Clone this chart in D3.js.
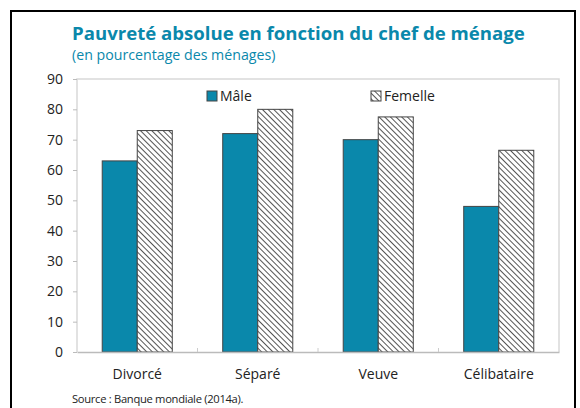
<!DOCTYPE html>
<html>
<head>
<meta charset="utf-8">
<script src="https://cdn.jsdelivr.net/npm/d3@7"></script>
<style>
body { margin: 0; background: #fff; }
text { font-family: "Open Sans", "Noto Sans", sans-serif; }
</style>
</head>
<body>
<div id="canvas"></div>
<script>
var categories = ["Divorcé", "Séparé", "Veuve", "Célibataire"];
var series = ["Mâle", "Femelle"];
var maleValues = [63, 72, 70, 48];
var femaleValues = [73, 80, 77.5, 66.5];
var yTicks = [0, 10, 20, 30, 40, 50, 60, 70, 80, 90];

var width = 580, height = 408;
var plotLeft = 77, plotRight = 559, plotTop = 79, plotBottom = 352;
var teal = "#0a88ab";

var svg = d3.select("#canvas").append("svg").attr("width", width).attr("height", height);

// hatch pattern for "Femelle" (lines going down to the right)
var defs = svg.append("defs");
var pat = defs.append("pattern").attr("id", "hatch")
    .attr("patternUnits", "userSpaceOnUse")
    .attr("width", 4).attr("height", 4)
    .attr("patternTransform", "rotate(-45)");
pat.append("rect").attr("width", 4).attr("height", 4).attr("fill", "white");
pat.append("line").attr("x1", 0).attr("y1", 0).attr("x2", 0).attr("y2", 4)
    .attr("stroke", "#555").attr("stroke-width", 2);

// outer frame
svg.append("path")
    .attr("d", "M11,420 V11 H575 V420")
    .attr("fill", "none").attr("stroke", "black").attr("stroke-width", 2);

// title
svg.append("text").attr("x", 72).attr("y", 40)
    .style("font-size", "18.6px").style("font-weight", "bold").style("fill", teal)
    .text("Pauvreté absolue en fonction du chef de ménage");
svg.append("text").attr("x", 72).attr("y", 60)
    .style("font-size", "14.2px").style("fill", teal)
    .text("(en pourcentage des ménages)");

var x = d3.scaleBand().domain(categories).range([plotLeft, plotRight]);
var xInner = d3.scaleBand().domain(series).range([0, x.bandwidth()]).paddingOuter(0.72).paddingInner(0);
var y = d3.scaleLinear().domain([0, 90]).range([plotBottom, plotTop]);

// plot box
svg.append("path")
    .attr("d", "M" + plotLeft + "," + plotBottom + " V" + plotTop + " H" + plotRight + " V" + plotBottom)
    .attr("fill", "none").attr("stroke", "#d9d9d9").attr("stroke-width", 1.5);

// y axis
var yAxis = svg.append("g").attr("transform", "translate(" + plotLeft + ",0)")
    .call(d3.axisLeft(y).tickValues(yTicks).tickSize(4).tickPadding(10));
yAxis.select(".domain").remove();
yAxis.selectAll("line").attr("stroke", "#bbb");
yAxis.selectAll("text").style("font-size", "14px").style("fill", "#222")
    .style("font-family", "'Open Sans', sans-serif");

// bars
var rows = categories.map(function(c, i) {
    return { cat: c, values: [maleValues[i], femaleValues[i]] };
});
var groups = svg.selectAll("g.grp").data(rows).enter().append("g")
    .attr("transform", function(d) { return "translate(" + x(d.cat) + ",0)"; });
groups.selectAll("rect").data(function(d) {
        return d.values.map(function(v, j) { return { s: series[j], v: v }; });
    }).enter().append("rect")
    .attr("x", function(d) { return xInner(d.s); })
    .attr("y", function(d) { return y(d.v); })
    .attr("width", xInner.bandwidth())
    .attr("height", function(d) { return plotBottom - y(d.v); })
    .attr("fill", function(d) { return d.s == "Mâle" ? teal : "url(#hatch)"; })
    .attr("stroke", "#444").attr("stroke-width", 1);

// x axis
var xAxis = svg.append("g").attr("transform", "translate(0," + plotBottom + ")")
    .call(d3.axisBottom(x).tickSize(0).tickPadding(17));
xAxis.select(".domain").attr("stroke", "#bbb").attr("stroke-width", 1.5);
xAxis.selectAll("text").style("font-size", "14px").style("fill", "#222")
    .style("font-family", "'Open Sans', sans-serif");
// separator ticks between categories
svg.selectAll("line.sep").data(categories.slice(1)).enter().append("line")
    .attr("x1", function(d) { return x(d); }).attr("x2", function(d) { return x(d); })
    .attr("y1", plotBottom).attr("y2", plotBottom - 4)
    .attr("stroke", "#ccc");

// legend
var legendX = [207, 371];
series.forEach(function(s, i) {
    svg.append("rect").attr("x", legendX[i]).attr("y", 91).attr("width", 10).attr("height", 10)
        .attr("fill", i == 0 ? teal : "url(#hatch)").attr("stroke", "#444").attr("stroke-width", 1);
    svg.append("text").attr("x", legendX[i] + 13).attr("y", 101)
        .style("font-size", "14px").style("fill", "#222").text(s);
});

// source
svg.append("text").attr("x", 72).attr("y", 403)
    .style("font-size", "11.2px").style("fill", "#222").style("letter-spacing", "-0.3px")
    .text("Source : Banque mondiale (2014a).");
</script>
</body>
</html>
